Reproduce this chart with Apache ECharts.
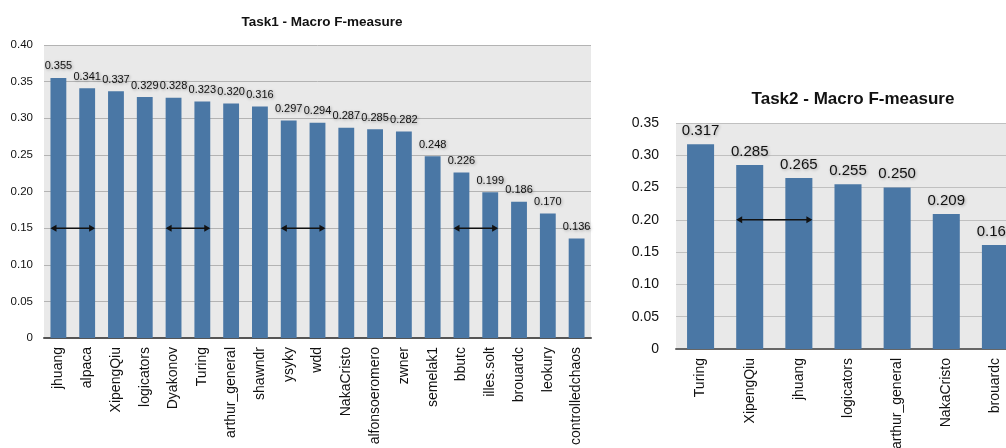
<!DOCTYPE html>
<html>
<head>
<meta charset="utf-8">
<script src="https://cdn.jsdelivr.net/npm/echarts@6/dist/echarts.min.js"></script>
<style>
  html, body { margin: 0; padding: 0; background: #fff; }
  #chart { width: 1006px; height: 448px; }
</style>
</head>
<body>
<div id="chart"></div>
<script>
// Task1 data
var task1Names = ['jhuang', 'alpaca', 'XipengQiu', 'logicators', 'Dyakonov', 'Turing', 'arthur_general', 'shawndr',
  'ysyky', 'wdd', 'NakaCristo', 'alfonsoeromero', 'zwner', 'semelak1', 'bbutc', 'illes.solt', 'brouardc', 'leokury', 'controlledchaos'];
var task1Values = [0.355, 0.341, 0.337, 0.329, 0.328, 0.323, 0.320, 0.316, 0.297, 0.294, 0.287, 0.285, 0.282, 0.248, 0.226, 0.199, 0.186, 0.170, 0.136];
// double arrows: [from index, to index, y]
var task1Arrows = [[0, 1, 0.15], [4, 5, 0.15], [8, 9, 0.15], [14, 15, 0.15]];

// Task2 data
var task2Names = ['Turing', 'XipengQiu', 'jhuang', 'logicators', 'arthur_general', 'NakaCristo', 'brouardc'];
var task2Values = [0.317, 0.285, 0.265, 0.255, 0.250, 0.209, 0.161];
var task2Arrows = [[1, 2, 0.20]];

var yTicks1 = { min: 0, max: 0.4, interval: 0.05 };
var yTicks2 = { min: 0, max: 0.35, interval: 0.05 };

var barColor = '#4a77a5';
var font = '"Liberation Sans", Arial, Helvetica, sans-serif';

function yFmt(v) {
  return v === 0 ? '0' : v.toFixed(2);
}

// 双向箭头
function arrowRender(ratio) {
  return function (params, api) {
    var y = api.value(2);
    var p1 = api.coord([api.value(0), y]);
    var p2 = api.coord([api.value(1), y]);
    var half = api.size([1, 0])[0] * ratio / 2;
    var x1 = p1[0] - half, x2 = p2[0] + half, yy = p1[1];
    var hl = 6, hw = 3.5;
    return {
      type: 'group',
      children: [
        { type: 'line', shape: { x1: x1 + 2, y1: yy, x2: x2 - 2, y2: yy }, style: { stroke: '#111', lineWidth: 1.5 } },
        { type: 'polygon', shape: { points: [[x1, yy], [x1 + hl, yy - hw], [x1 + hl, yy + hw]] }, style: { fill: '#111' } },
        { type: 'polygon', shape: { points: [[x2, yy], [x2 - hl, yy - hw], [x2 - hl, yy + hw]] }, style: { fill: '#111' } }
      ]
    };
  };
}

var chart = echarts.init(document.getElementById('chart'));

var option = {
  animation: false,
  backgroundColor: '#fff',
  title: [{
    text: 'Task1 - Macro F-measure',
    left: 317, top: 10, textAlign: 'center',
    textStyle: { fontFamily: font, fontSize: 13.5, fontWeight: 'bold', color: '#111' }
  }, {
    text: 'Task2 - Macro F-measure',
    left: 848, top: 86, textAlign: 'center',
    textStyle: { fontFamily: font, fontSize: 17, fontWeight: 'bold', color: '#111' }
  }],
  grid: [
    { left: 44, width: 547, top: 45, bottom: 110, outerBoundsMode: 'none', show: true, backgroundColor: '#e9e9e9', borderWidth: 0 },
    { left: 676, width: 344, top: 123, bottom: 99, outerBoundsMode: 'none', show: true, backgroundColor: '#e9e9e9', borderWidth: 0 }
  ],
  xAxis: [{
    gridIndex: 0, type: 'category', data: task1Names,
    axisLine: { lineStyle: { color: '#555', width: 2 } },
    axisTick: { show: false },
    axisLabel: { rotate: 90, margin: 9, interval: 0, color: '#111', fontFamily: font, fontSize: 14 }
  }, {
    gridIndex: 1, type: 'category', data: task2Names,
    axisLine: { lineStyle: { color: '#666', width: 2 } },
    axisTick: { show: false },
    axisLabel: { rotate: 90, margin: 9, interval: 0, color: '#111', fontFamily: font, fontSize: 14 }
  }],
  yAxis: [{
    gridIndex: 0, type: 'value', min: yTicks1.min, max: yTicks1.max, interval: yTicks1.interval,
    axisLine: { show: false }, axisTick: { show: false },
    splitLine: { lineStyle: { color: '#b3b3b3', width: 1 } },
    axisLabel: { formatter: yFmt, margin: 11, color: '#111', fontFamily: font, fontSize: 11.5 }
  }, {
    gridIndex: 1, type: 'value', min: yTicks2.min, max: yTicks2.max, interval: yTicks2.interval,
    axisLine: { show: false }, axisTick: { show: false },
    splitLine: { lineStyle: { color: '#c0c0c0', width: 1 } },
    axisLabel: { formatter: yFmt, margin: 17, color: '#111', fontFamily: font, fontSize: 14 }
  }],
  series: [{
    name: 'Task1', type: 'bar', xAxisIndex: 0, yAxisIndex: 0,
    data: task1Values, barWidth: '55%',
    itemStyle: { color: barColor },
    label: {
      show: true, position: 'top', distance: 6,
      formatter: function (p) { return p.value.toFixed(3); },
      color: '#111', fontFamily: font, fontSize: 11,
      textShadowColor: 'rgba(0,0,0,0.35)', textShadowBlur: 3, textShadowOffsetX: 1, textShadowOffsetY: 1
    }
  }, {
    name: 'Task2', type: 'bar', xAxisIndex: 1, yAxisIndex: 1,
    data: task2Values, barWidth: '55%',
    itemStyle: { color: barColor },
    label: {
      show: true, position: 'top', distance: 6,
      formatter: function (p) { return p.value.toFixed(3); },
      color: '#111', fontFamily: font, fontSize: 15,
      textShadowColor: 'rgba(0,0,0,0.3)', textShadowBlur: 3, textShadowOffsetX: 1, textShadowOffsetY: 1
    }
  }, {
    type: 'custom', xAxisIndex: 0, yAxisIndex: 0,
    data: task1Arrows, encode: { x: [0, 1], y: 2 },
    renderItem: arrowRender(0.55), z: 5
  }, {
    type: 'custom', xAxisIndex: 1, yAxisIndex: 1,
    data: task2Arrows, encode: { x: [0, 1], y: 2 },
    renderItem: arrowRender(0.55), z: 5
  }]
};

chart.setOption(option);
</script>
</body>
</html>
